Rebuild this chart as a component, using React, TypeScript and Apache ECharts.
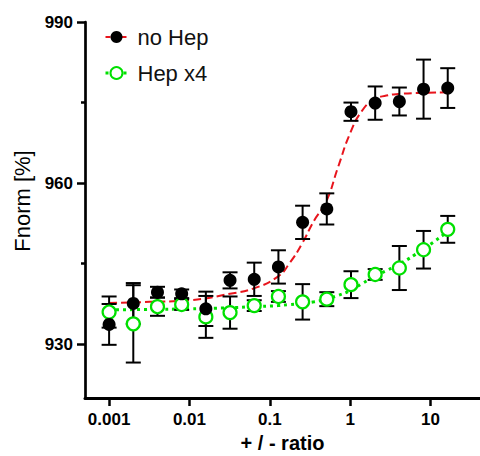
import React, { useEffect, useRef } from 'react';
import * as echarts from 'echarts';

// ---- data ----
const ratios = [0.001, 0.002, 0.004, 0.008, 0.016, 0.032, 0.064, 0.128, 0.256, 0.512, 1.024, 2.048, 4.096, 8.192, 16.384];
const noHepMean = [933.7, 937.6, 939.7, 939.4, 936.6, 941.9, 942.1, 944.4, 952.7, 955.2, 973.3, 974.9, 975.2, 977.5, 977.7];
const noHepErr = [3.8, 3.8, 1.0, 0.8, 3.2, 1.5, 3.1, 3.1, 3.1, 2.9, 1.7, 3.1, 2.6, 5.5, 3.7];
const hepMean = [936.0, 933.8, 937.0, 937.4, 935.1, 935.9, 937.2, 938.9, 937.9, 938.4, 941.1, 943.0, 944.2, 947.6, 951.4];
const hepErr = [2.9, 7.2, 1.7, 1.0, 3.9, 3.0, 1.0, 1.0, 3.3, 1.3, 2.5, 1.0, 4.1, 3.5, 2.5];

// fitted curves, read at these ratios
const fitRatios = [0.001, 0.0032, 0.01, 0.032, 0.063, 0.126, 0.178, 0.251, 0.355, 0.501, 0.708, 1, 1.41, 2, 2.82, 3.98, 7.94, 16.384];
const noHepFit = [937.7, 937.9, 938.2, 939.4, 940.4, 942.6, 945.2, 948.7, 953.0, 956.5, 963.0, 969.3, 973.5, 975.6, 976.3, 976.6, 976.8, 976.9];
const hepFit = [936.4, 936.5, 936.6, 936.8, 937.0, 937.2, 937.4, 937.6, 937.9, 938.4, 939.1, 940.0, 941.3, 942.6, 943.7, 944.8, 947.6, 951.0];

const xTickValues = [0.001, 0.01, 0.1, 1, 10];
const xTickLabels = ['0.001', '0.01', '0.1', '1', '10'];
const yTickLabels = [930, 960, 990];
const yMinorTicks = [945, 975];

const seriesNames = ['no Hep', 'Hep x4'];
const xName = '+ / - ratio';
const yName = 'Fnorm [%]';

// ---- styling ----
const RED = '#e8141c';
const GREEN = '#00e000';
const FONT = '"Liberation Sans", Arial, Helvetica, sans-serif';

const lg = (v: number) => Math.log10(v);

function errorBarSeries(name: string, means: number[], errs: number[]) {
  return {
    type: 'custom',
    name,
    data: ratios.map((r, i) => [lg(r), means[i] - errs[i], means[i] + errs[i]]),
    encode: { x: 0, y: [1, 2] },
    silent: true,
    renderItem: (_params: any, api: any) => {
      const x = api.value(0);
      const lo = api.coord([x, api.value(1)]);
      const hi = api.coord([x, api.value(2)]);
      const half = 7.5;
      const style = { stroke: '#000', lineWidth: 2, fill: null };
      return {
        type: 'group',
        children: [
          { type: 'line', shape: { x1: lo[0], y1: lo[1], x2: hi[0], y2: hi[1] }, style },
          { type: 'line', shape: { x1: lo[0] - half, y1: lo[1], x2: lo[0] + half, y2: lo[1] }, style },
          { type: 'line', shape: { x1: hi[0] - half, y1: hi[1], x2: hi[0] + half, y2: hi[1] }, style },
        ],
      };
    },
    z: 3,
  };
}

export default function App() {
  const ref = useRef<HTMLDivElement>(null);

  useEffect(() => {
    document.body.style.margin = '0';
    const chart = echarts.init(ref.current!, null, { renderer: 'svg' });

    const xFormatter = (v: number) => {
      const idx = xTickValues.findIndex((t) => Math.abs(lg(t) - v) < 1e-6);
      return idx >= 0 ? xTickLabels[idx] : '';
    };

    const option: any = {
      animation: false,
      backgroundColor: '#fff',
      grid: { left: 85, right: 0, top: 22, bottom: 58, containLabel: false, outerBoundsMode: 'none' },
      legend: {
        orient: 'vertical',
        left: 99,
        top: 21,
        itemWidth: 22,
        itemHeight: 15,
        itemGap: 14,
        selectedMode: false,
        textStyle: { fontSize: 22, color: '#111', fontFamily: FONT, padding: [0, 0, 0, 5] },
        data: [
          {
            name: seriesNames[0],
            itemStyle: { color: '#000', borderWidth: 0 },
            lineStyle: { color: RED, type: [5, 3], width: 2 },
          },
          {
            name: seriesNames[1],
            itemStyle: { color: '#fff', borderColor: GREEN, borderWidth: 2 },
            lineStyle: { color: GREEN, type: [3, 3], width: 3 },
          },
        ],
      },
      xAxis: {
        type: 'value',
        min: -3.3,
        max: 1.616,
        name: xName,
        nameLocation: 'middle',
        nameGap: 35,
        nameTextStyle: { fontSize: 20, fontWeight: 'bold', color: '#000', fontFamily: FONT },
        axisLine: { show: true, onZero: false, lineStyle: { color: '#000', width: 3 } },
        axisTick: {
          show: true,
          length: 8,
          customValues: xTickValues.map(lg),
          lineStyle: { color: '#000', width: 2.5 },
        },
        axisLabel: {
          show: true,
          customValues: xTickValues.map(lg),
          formatter: xFormatter,
          margin: 13,
          fontSize: 17,
          fontWeight: 'bold',
          color: '#000',
          fontFamily: FONT,
        },
        splitLine: { show: false },
      },
      yAxis: [
        {
          type: 'value',
          min: 920,
          max: 990,
          name: yName,
          nameLocation: 'middle',
          nameGap: 52,
          nameTextStyle: { fontSize: 22, color: '#000', fontFamily: FONT, padding: [0, 0, 0, 18] },
          axisLine: { show: true, onZero: false, lineStyle: { color: '#000', width: 2.7 } },
          axisTick: {
            show: true,
            length: 8,
            customValues: yTickLabels,
            lineStyle: { color: '#000', width: 2.5 },
          },
          axisLabel: {
            show: true,
            customValues: yTickLabels,
            margin: 12,
            fontSize: 17,
            fontWeight: 'bold',
            color: '#000',
            fontFamily: FONT,
          },
          splitLine: { show: false },
        },
        {
          type: 'value',
          min: 920,
          max: 990,
          position: 'left',
          axisLine: { show: false, onZero: false },
          axisTick: {
            show: true,
            length: 4,
            customValues: yMinorTicks,
            lineStyle: { color: '#000', width: 2.5 },
          },
          axisLabel: { show: false },
          splitLine: { show: false },
        },
      ],
      series: [
        {
          type: 'line',
          name: seriesNames[1],
          data: fitRatios.map((r, i) => [lg(r), hepFit[i]]),
          smooth: true,
          showSymbol: false,
          symbol: 'circle',
          itemStyle: { color: '#fff', borderColor: GREEN, borderWidth: 2 },
          lineStyle: { color: GREEN, type: [3, 4], width: 3, cap: 'butt' },
          silent: true,
          z: 1,
        },
        {
          type: 'line',
          name: seriesNames[0],
          data: fitRatios.map((r, i) => [lg(r), noHepFit[i]]),
          smooth: true,
          showSymbol: false,
          symbol: 'circle',
          itemStyle: { color: '#000' },
          lineStyle: { color: RED, type: [8, 4], width: 2 },
          silent: true,
          z: 2,
        },
        errorBarSeries('hep-err', hepMean, hepErr),
        errorBarSeries('nohep-err', noHepMean, noHepErr),
        {
          type: 'scatter',
          name: 'hep-points',
          data: ratios.map((r, i) => [lg(r), hepMean[i]]),
          symbol: 'circle',
          symbolSize: 13,
          itemStyle: { color: '#fff', borderColor: GREEN, borderWidth: 2.2, opacity: 1 },
          silent: true,
          z: 4,
        },
        {
          type: 'scatter',
          name: 'nohep-points',
          data: ratios.map((r, i) => [lg(r), noHepMean[i]]),
          symbol: 'circle',
          symbolSize: 13,
          itemStyle: { color: '#000', opacity: 1 },
          silent: true,
          z: 5,
        },
      ],
    };

    chart.setOption(option);
    return () => chart.dispose();
  }, []);

  return <div ref={ref} style={{ width: 480, height: 456 }} />;
}
